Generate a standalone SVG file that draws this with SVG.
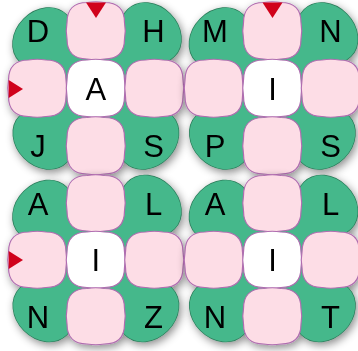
<svg xmlns="http://www.w3.org/2000/svg" width="358" height="351" viewBox="0 0 358 351">
<style>
.gs{fill:#45b88b;stroke:#2f7d5c;stroke-width:1.4}
.gf{fill:#45b88b;stroke:none}
.pk{fill:#fddde6;stroke:#b06db0;stroke-width:1.2}
.wh{fill:#ffffff;stroke:#b06db0;stroke-width:1.2}
.mk{fill:#d0021b}
text{font-family:"Liberation Sans",Arial,sans-serif;font-size:31px;text-anchor:middle;fill:#000}
</style>
<defs>
<filter id="sh" x="-10%" y="-10%" width="125%" height="125%">
<feDropShadow dx="2" dy="3" stdDeviation="4" flood-color="#000" flood-opacity="0.45"/>
</filter>
<path id="c1" d="M20.5,0.5 Q29.25,-1 38,0.5 C51,0.5 58,7.5 58,20.5 Q59.5,28.75 58,37 C58,50 51,57 38,57 Q29.25,58.5 20.5,57 C7.5,57 0.5,50 0.5,37 Q-1,28.75 0.5,20.5 C0.5,7.5 7.5,0.5 20.5,0.5Z"/>
<path id="c3" d="M20.5,0.5 Q29.25,-1 38,0.5 C51,0.5 58,7.5 58,20.5 Q59.5,28.25 58,36 C58,49 51,56 38,56 Q29.25,57.5 20.5,56 C7.5,56 0.5,49 0.5,36 Q-1,28.25 0.5,20.5 C0.5,7.5 7.5,0.5 20.5,0.5Z"/>
<g id="gr">
<ellipse cx="0" cy="0" rx="33" ry="27" transform="translate(43,38) rotate(-45)"/>
<ellipse cx="0" cy="0" rx="33" ry="27" transform="translate(151,33) rotate(45)"/>
<ellipse cx="0" cy="0" rx="33" ry="27" transform="translate(43.3,139) rotate(45)"/>
<ellipse cx="0" cy="0" rx="33" ry="27" transform="translate(148.5,139) rotate(-45)"/>
<rect x="43" y="33" width="108" height="106"/>
</g>
</defs>

<g id="flower1" filter="url(#sh)">
<g id="f1-base"><use href="#gr" class="gs"/><use href="#gr" class="gf"/></g>
<g id="f1-top"><use href="#c1" x="66.5" y="2" class="pk"/></g>
<g id="f1-left"><use href="#c1" x="8" y="59.5" class="pk"/></g>
<g id="f1-center"><use href="#c1" x="66.5" y="59.5" class="wh"/></g>
<g id="f1-right"><use href="#c1" x="125" y="59.5" class="pk"/></g>
<g id="f1-bottom"><use href="#c1" x="66.5" y="117" class="pk"/></g>
</g>
<g id="flower2" filter="url(#sh)">
<g id="f2-base" transform="translate(176.5,0)"><use href="#gr" class="gs"/><use href="#gr" class="gf"/></g>
<g id="f2-top"><use href="#c1" x="243" y="2" class="pk"/></g>
<g id="f2-left"><use href="#c1" x="184.5" y="59.5" class="pk"/></g>
<g id="f2-center"><use href="#c1" x="243" y="59.5" class="wh"/></g>
<g id="f2-right"><use href="#c1" x="301.5" y="59.5" class="pk"/></g>
<g id="f2-bottom"><use href="#c1" x="243" y="117" class="pk"/></g>
</g>
<g id="flower3" filter="url(#sh)">
<g id="f3-base" transform="translate(0,172.5)"><use href="#gr" class="gs"/><use href="#gr" class="gf"/></g>
<g id="f3-top"><use href="#c3" x="66.5" y="175" class="pk"/></g>
<g id="f3-left"><use href="#c3" x="8" y="231.5" class="pk"/></g>
<g id="f3-center"><use href="#c3" x="66.5" y="231.5" class="wh"/></g>
<g id="f3-right"><use href="#c3" x="125" y="231.5" class="pk"/></g>
<g id="f3-bottom"><use href="#c3" x="66.5" y="288" class="pk"/></g>
</g>
<g id="flower4" filter="url(#sh)">
<g id="f4-base" transform="translate(176.5,172.5)"><use href="#gr" class="gs"/><use href="#gr" class="gf"/></g>
<g id="f4-top"><use href="#c3" x="243" y="175" class="pk"/></g>
<g id="f4-left"><use href="#c3" x="184.5" y="231.5" class="pk"/></g>
<g id="f4-center"><use href="#c3" x="243" y="231.5" class="wh"/></g>
<g id="f4-right"><use href="#c3" x="301.5" y="231.5" class="pk"/></g>
<g id="f4-bottom"><use href="#c3" x="243" y="288" class="pk"/></g>
</g>

<g id="markers">
<polygon class="mk" points="86,2.6 106,2.6 96,18"/>
<polygon class="mk" points="8.7,80 8.7,98 23,89"/>
<polygon class="mk" points="262.5,2.6 282.5,2.6 272.5,18"/>
<polygon class="mk" points="8.7,251 8.7,269 23,260"/>
</g>

<g id="letters">
<text x="38" y="42">D</text>
<text x="153.5" y="42">H</text>
<text x="95.75" y="99.5">A</text>
<text x="38" y="157">J</text>
<text x="153.5" y="157">S</text>
<text x="215" y="42">M</text>
<text x="330.5" y="42">N</text>
<text x="272.5" y="99.5">I</text>
<text x="215" y="157">P</text>
<text x="330.5" y="157">S</text>
<text x="38" y="214.5">A</text>
<text x="153.5" y="214.5">L</text>
<text x="95.75" y="271">I</text>
<text x="38" y="327.5">N</text>
<text x="153.5" y="327.5">Z</text>
<text x="215" y="214.5">A</text>
<text x="330.5" y="214.5">L</text>
<text x="272.5" y="271">I</text>
<text x="215" y="327.5">N</text>
<text x="330.5" y="327.5">T</text>
</g>
</svg>
